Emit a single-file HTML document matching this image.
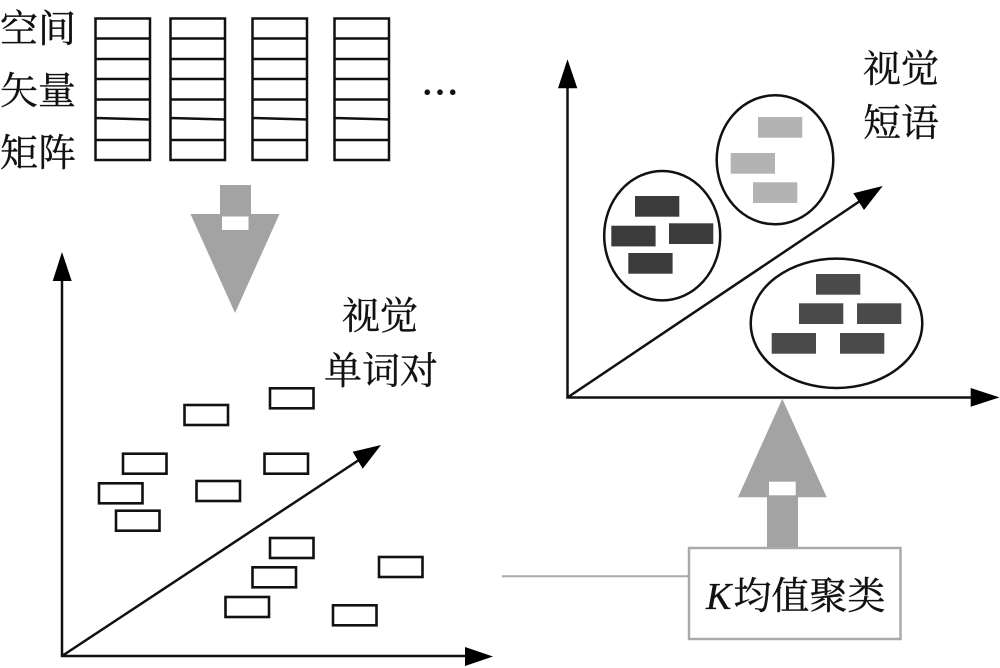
<!DOCTYPE html>
<html lang="zh"><head><meta charset="utf-8"><style>
html,body{margin:0;padding:0;background:#fff}
svg{display:block}
text{font-family:"Liberation Serif","Noto Serif CJK SC",serif;font-size:38px;fill:#111;stroke:#111;stroke-width:.35px}
</style></head><body>
<svg width="1000" height="668" viewBox="0 0 1000 668" xmlns="http://www.w3.org/2000/svg">
<rect width="1000" height="668" fill="#fff"/>
<text x="0" y="42">空间</text>
<text x="0" y="104">矢量</text>
<text x="0" y="166">矩阵</text>
<g fill="none" stroke="#111" stroke-width="2.500">
<path d="M95.500 18.500H150V160H95.500ZM95.500 38.500H150M95.500 59H150M95.500 79H150M95.500 99.500H150M95.500 118L150 119.500M95.500 140H150"/>
<path d="M170.500 18.500H225V160H170.500ZM170.500 38.500H225M170.500 59H225M170.500 79H225M170.500 99.500H225M170.500 118L225 119.500M170.500 140H225"/>
<path d="M252.500 18.500H307V160H252.500ZM252.500 38.500H307M252.500 59H307M252.500 79H307M252.500 99.500H307M252.500 118L307 119.500M252.500 140H307"/>
<path d="M334.500 18.500H389V160H334.500ZM334.500 38.500H389M334.500 59H389M334.500 79H389M334.500 99.500H389M334.500 118L389 119.500M334.500 140H389"/>
</g>
<text x="421" y="94" style="stroke-width:1.100px">…</text>
<path d="M220 185H251V214H279.500L235 313L190.500 214H220Z" fill="#a3a3a3"/>
<rect x="222" y="216.500" width="26.500" height="13.500" fill="#fff"/>
<g stroke="#111" stroke-width="2.500" fill="none">
<path d="M62 275V656H470M62 656L365 456"/>
</g>
<path d="M62 252L71.700 281H52.700Z M493 656.500L465 666V647Z M381 445L352.700 451.700L362.700 468.700Z" fill="#000"/>
<g fill="#fff" stroke="#111" stroke-width="2.600">
<rect x="270" y="388.300" width="43.500" height="20"/>
<rect x="184.500" y="405" width="43.500" height="20"/>
<rect x="123" y="453.700" width="43.500" height="20"/>
<rect x="264.500" y="453.700" width="43.500" height="20"/>
<rect x="99" y="483.300" width="43.500" height="20"/>
<rect x="196.500" y="481" width="43.500" height="20"/>
<rect x="116" y="510.700" width="43.500" height="20"/>
<rect x="270" y="538" width="43.500" height="20"/>
<rect x="252.500" y="567.300" width="43.500" height="20"/>
<rect x="379" y="557" width="43.500" height="20"/>
<rect x="225.500" y="597" width="43.500" height="20"/>
<rect x="333" y="605.300" width="43.500" height="20"/>
</g>
<text x="342" y="329">视觉</text>
<text x="324" y="384">单词对</text>
<g stroke="#111" stroke-width="2.500" fill="none">
<path d="M567.500 85V397.500H975M567.500 397.500L866 197"/>
<ellipse cx="662.200" cy="235.700" rx="58" ry="64.700"/>
<ellipse cx="775" cy="159.800" rx="58.300" ry="64.500"/>
<ellipse cx="836.500" cy="323.300" rx="85.800" ry="64.700"/>
</g>
<path d="M567.500 59.300L577.300 88.300H558Z M999.500 397.400L970.700 406.700V388Z M882.700 186L853.300 193.300L864 210Z" fill="#000"/>
<g fill="#b3b3b3">
<rect x="758" y="117" width="44.300" height="20.700"/>
<rect x="730.700" y="153" width="44.300" height="20.700"/>
<rect x="753" y="182.300" width="44.300" height="20.700"/>
</g>
<g fill="#3b3b3b">
<rect x="635" y="196" width="44.300" height="20.700"/>
<rect x="611.300" y="225.700" width="44.300" height="20.700"/>
<rect x="669" y="223.300" width="44.300" height="20.700"/>
<rect x="628.300" y="253" width="44.300" height="20.700"/>
</g>
<g fill="#4a4a4a">
<rect x="816" y="274" width="44.300" height="20.700"/>
<rect x="799" y="303.300" width="44.300" height="20.700"/>
<rect x="857" y="303.300" width="44.300" height="20.700"/>
<rect x="771.700" y="333" width="44.300" height="20.700"/>
<rect x="840" y="333" width="44.300" height="20.700"/>
</g>
<text x="863" y="82">视觉</text>
<text x="863" y="136">短语</text>
<path d="M782.300 398.700L826.700 497.300H798V549H767V497.300H738Z" fill="#a3a3a3"/>
<rect x="769" y="481.700" width="26.700" height="13.600" fill="#fff"/>
<path d="M502 576.300H689" stroke="#aaa" stroke-width="2"/>
<rect x="689" y="548" width="211.500" height="91" fill="#fff" stroke="#aaa" stroke-width="2.500"/>
<text x="706" y="609"><tspan font-style="italic">K</tspan><tspan dx="2">均值聚类</tspan></text>
</svg>
</body></html>
